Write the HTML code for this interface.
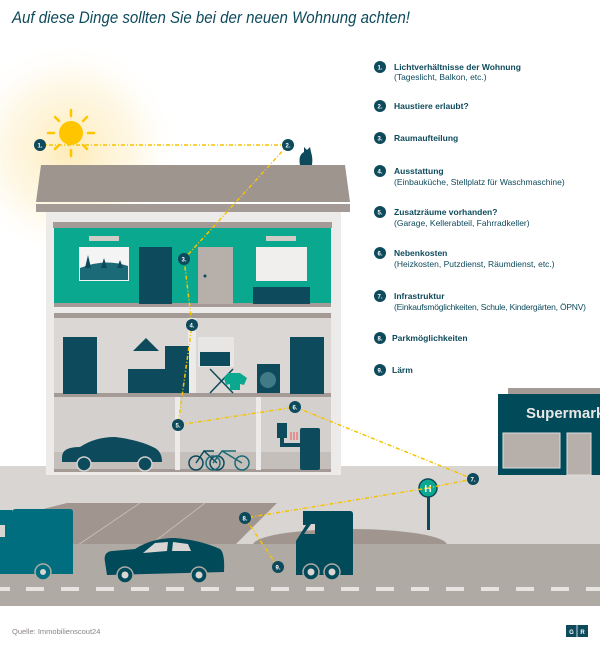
<!DOCTYPE html>
<html><head><meta charset="utf-8"><style>
html,body{margin:0;padding:0;background:#fff;width:600px;height:648px;overflow:hidden}
svg{display:block}
text{font-family:"Liberation Sans",sans-serif}
</style></head><body>
<svg width="600" height="648" viewBox="0 0 600 648" xmlns="http://www.w3.org/2000/svg">
<defs>
<radialGradient id="glow" cx="70" cy="150" r="110" gradientUnits="userSpaceOnUse">
<stop offset="0" stop-color="#fde9b0" stop-opacity="0.9"/>
<stop offset="0.6" stop-color="#fef3d6" stop-opacity="0.6"/>
<stop offset="1" stop-color="#fff" stop-opacity="0"/>
</radialGradient>
</defs>
<text x="12" y="23" font-size="17" font-style="italic" fill="#0d4a5c" textLength="398" lengthAdjust="spacingAndGlyphs">Auf diese Dinge sollten Sie bei der neuen Wohnung achten!</text>

<!-- ground -->
<rect x="0" y="466" width="600" height="80" fill="#d9d5d2"/>
<polygon points="67,503 277,503 235,545 0,545 0,520" fill="#a0958f"/>
<line x1="78" y1="545" x2="140" y2="503" stroke="#c9c2bd" stroke-width="0.8"/>
<line x1="150" y1="545" x2="205" y2="503" stroke="#c9c2bd" stroke-width="0.8"/>
<ellipse cx="350" cy="545" rx="97" ry="16" fill="#a0958f"/>
<rect x="0" y="544" width="600" height="62" fill="#b0aaa5"/>
<g fill="#e6e3e0">
<rect x="0" y="587" width="10" height="4"/><rect x="26" y="587" width="18" height="4"/><rect x="61" y="587" width="18" height="4"/><rect x="96" y="587" width="18" height="4"/><rect x="131" y="587" width="18" height="4"/><rect x="166" y="587" width="18" height="4"/><rect x="201" y="587" width="18" height="4"/><rect x="236" y="587" width="18" height="4"/><rect x="271" y="587" width="18" height="4"/><rect x="306" y="587" width="18" height="4"/><rect x="341" y="587" width="18" height="4"/><rect x="376" y="587" width="18" height="4"/><rect x="411" y="587" width="18" height="4"/><rect x="446" y="587" width="18" height="4"/><rect x="481" y="587" width="18" height="4"/><rect x="516" y="587" width="18" height="4"/><rect x="551" y="587" width="18" height="4"/><rect x="586" y="587" width="14" height="4"/>
</g>

<!-- sun glow -->
<circle cx="70" cy="150" r="110" fill="url(#glow)"/>

<!-- house -->
<rect x="46" y="210" width="295" height="265" fill="#ecebea"/>
<polygon points="41,165 345,165 350,202 36,202" fill="#9f958f"/>
<rect x="36" y="204" width="314" height="8" fill="#a49b96"/>
<rect x="53" y="222" width="279" height="6" fill="#a49b96"/>
<rect x="54" y="228" width="277" height="76" fill="#0aa88f"/>
<rect x="54" y="303" width="277" height="4" fill="#a49b96"/>
<rect x="54" y="313" width="277" height="5" fill="#a49b96"/>
<rect x="54" y="318" width="277" height="75" fill="#dbd7d4"/>
<rect x="54" y="393" width="277" height="4" fill="#a49b96"/>
<rect x="54" y="397" width="277" height="74" fill="#d4d0cd"/>
<rect x="54" y="452" width="277" height="17" fill="#c4bfbb"/>
<rect x="54" y="469" width="277" height="3" fill="#a49b96"/>
<rect x="188" y="318" width="8" height="75" fill="#ecebea"/>
<rect x="175" y="397" width="5" height="73" fill="#ecebea"/>
<rect x="256" y="397" width="5" height="73" fill="#ecebea"/>

<!-- top floor items -->
<rect x="89" y="236" width="30" height="5" fill="#d0ccc8"/>
<rect x="266" y="236" width="30" height="5" fill="#d0ccc8"/>
<rect x="79" y="247" width="50" height="34" fill="#f4f4f4"/>
<path d="M80,268 Q105,258 128,266 L128,280 L80,280Z" fill="#1b6a78"/>
<polygon points="85,268 88,255 91,268" fill="#0d4a5c"/><polygon points="101,268 104,258 107,268" fill="#0d4a5c"/><polygon points="117,268 120,260 123,268" fill="#0d4a5c"/>
<rect x="139" y="247" width="33" height="57" fill="#0d4a5c"/>
<rect x="198" y="247" width="35" height="57" fill="#b6afaa"/>
<circle cx="205" cy="276" r="1.5" fill="#0d4a5c"/>
<rect x="256" y="247" width="51" height="34" fill="#f0efee"/>
<rect x="253" y="287" width="57" height="17" fill="#0d4a5c"/>

<!-- middle floor items -->
<rect x="63" y="337" width="34" height="57" fill="#0d4a5c"/>
<rect x="290" y="337" width="34" height="57" fill="#0d4a5c"/>
<polygon points="133,351 146,338 159,351" fill="#0d4a5c"/>
<rect x="128" y="369" width="38" height="24" fill="#0d4a5c"/>
<rect x="165" y="346" width="24" height="47" fill="#0d4a5c"/>
<rect x="198" y="337" width="36" height="30" fill="#e8e6e4"/>
<rect x="200" y="352" width="30" height="14" fill="#0d4a5c"/>
<line x1="210" y1="393" x2="233" y2="369" stroke="#0d4a5c" stroke-width="1.5"/>
<line x1="210" y1="369" x2="233" y2="393" stroke="#0d4a5c" stroke-width="1.5"/>
<polygon points="228,373 240,373 247,378 244,385 240,384 240,390 230,390 230,384 226,385 224,378" fill="#0aa88f"/>
<rect x="257" y="364" width="23" height="29" fill="#0d4a5c"/>
<circle cx="268" cy="380" r="8" fill="#3f7a86"/>

<!-- basement items -->
<path d="M62,457 Q62,447 80,447 Q95,437 115,437 Q140,440 155,448 Q162,452 162,462 L62,462Z" fill="#0d4a5c"/>
<circle cx="84" cy="464" r="7" fill="#0d4a5c" stroke="#d4d0cd" stroke-width="1.5"/><circle cx="145" cy="464" r="7" fill="#0d4a5c" stroke="#d4d0cd" stroke-width="1.5"/>
<g fill="none" stroke="#0d4a5c" stroke-width="1.5"><circle cx="196" cy="463" r="7"/><circle cx="217" cy="463" r="7"/><path d="M196,463 L204,451 L217,463 M204,451 L214,451"/></g>
<g fill="none" stroke="#1b6a78" stroke-width="1.5"><circle cx="213" cy="463" r="7"/><circle cx="242" cy="463" r="7"/><path d="M213,463 L222,451 L242,463 M222,451 L236,451"/></g>
<rect x="277" y="423" width="10" height="15" fill="#0d4a5c"/>
<rect x="300" y="428" width="20" height="42" rx="2" fill="#0d4a5c"/>
<path d="M282,438 L282,445 L300,445" stroke="#0d4a5c" stroke-width="4" fill="none"/>
<g stroke="#e55" stroke-width="1"><line x1="291" y1="432" x2="291" y2="440"/><line x1="294" y1="432" x2="294" y2="440"/><line x1="297" y1="432" x2="297" y2="440"/></g>

<!-- cat -->
<path d="M300,165 Q298,155 304,152 L304,147 L307,150 L310,147 L311,152 Q313,158 312,165 Z" fill="#0d4a5c"/>

<!-- sun -->
<circle cx="71" cy="133" r="12" fill="#ffc600"/>
<g stroke="#ffc600" stroke-width="2.5" stroke-linecap="round"><line x1="71" y1="110" x2="71" y2="116"/><line x1="71" y1="150" x2="71" y2="156"/><line x1="48" y1="133" x2="54" y2="133"/><line x1="88" y1="133" x2="94" y2="133"/><line x1="55" y1="117" x2="59" y2="121"/><line x1="83" y1="145" x2="87" y2="149"/><line x1="55" y1="149" x2="59" y2="145"/><line x1="83" y1="121" x2="87" y2="117"/></g>

<!-- supermarket -->
<rect x="508" y="388" width="92" height="7" fill="#a49b96"/>
<rect x="498" y="394" width="102" height="81" fill="#004a5a"/>
<text x="526" y="418" font-size="15" font-weight="bold" fill="#e8e6e4">Supermarkt</text>
<rect x="503" y="433" width="57" height="35" fill="#b6afaa" stroke="#ddd" stroke-width="1"/>
<rect x="567" y="433" width="24" height="42" fill="#b6afaa" stroke="#ddd" stroke-width="1"/>

<!-- bus stop -->
<rect x="427" y="493" width="3" height="37" fill="#0d4a5c"/>
<circle cx="428" cy="488" r="9" fill="#0aa88f" stroke="#0d4a5c" stroke-width="1.5"/>
<text x="428" y="492" font-size="10" font-weight="bold" fill="#fff" text-anchor="middle">H</text>

<!-- vehicles -->
<path d="M0,510 L12,510 L12,512 Q12,509 16,509 L70,509 Q73,509 73,512 L73,574 L0,574Z" fill="#006e7f"/>
<rect x="0" y="525" width="5" height="12" fill="#d9d5d2"/>
<circle cx="43" cy="572" r="8" fill="#006e7f" stroke="#b0aaa5" stroke-width="1.5"/><circle cx="43" cy="572" r="3" fill="#d9d5d2"/>
<path d="M105,562 Q103,552 112,551 L135,549 Q152,538 175,538 Q200,540 220,549 Q225,553 224,572 L107,575 Z" fill="#004a5a"/>
<polygon points="143,553 155,543 168,542 167,551" fill="#d9d5d2"/><polygon points="172,551 173,542 188,544 191,551" fill="#d9d5d2"/>
<circle cx="125" cy="575" r="8" fill="#004a5a" stroke="#b0aaa5" stroke-width="1.5"/><circle cx="125" cy="575" r="3.5" fill="#d9d5d2"/>
<circle cx="199" cy="575" r="8" fill="#004a5a" stroke="#b0aaa5" stroke-width="1.5"/><circle cx="199" cy="575" r="3.5" fill="#d9d5d2"/>
<path d="M303,511 L350,511 Q353,511 353,514 L353,575 L296,575 L296,541 L306,525 L303,525 Z M304,534 L311,524 L315,524 L315,534Z" fill="#004a5a" fill-rule="evenodd"/>
<circle cx="311" cy="572" r="8" fill="#004a5a" stroke="#b0aaa5" stroke-width="1.5"/><circle cx="311" cy="572" r="3.5" fill="#d9d5d2"/>
<circle cx="332" cy="572" r="8" fill="#004a5a" stroke="#b0aaa5" stroke-width="1.5"/><circle cx="332" cy="572" r="3.5" fill="#d9d5d2"/>

<!-- dashed lines -->
<g stroke="#f5c400" stroke-width="1.5" stroke-dasharray="4,2,1,2" fill="none">
<polyline points="40,145 288,145"/>
<polyline points="288,145 184,259 192,325 178,425 295,407 473,479 428,488 245,518 278,567"/>
</g>

<!-- markers -->
<g font-size="6" font-weight="bold" fill="#fff" text-anchor="middle">
<circle cx="40" cy="145" r="6" fill="#0d4a5c"/><text x="40" y="147.5">1.</text>
<circle cx="288" cy="145" r="6" fill="#0d4a5c"/><text x="288" y="147.5">2.</text>
<circle cx="184" cy="259" r="6" fill="#0d4a5c"/><text x="184" y="261.5">3.</text>
<circle cx="192" cy="325" r="6" fill="#0d4a5c"/><text x="192" y="327.5">4.</text>
<circle cx="178" cy="425" r="6" fill="#0d4a5c"/><text x="178" y="427.5">5.</text>
<circle cx="295" cy="407" r="6" fill="#0d4a5c"/><text x="295" y="409.5">6.</text>
<circle cx="473" cy="479" r="6" fill="#0d4a5c"/><text x="473" y="481.5">7.</text>
<circle cx="245" cy="518" r="6" fill="#0d4a5c"/><text x="245" y="520.5">8.</text>
<circle cx="278" cy="567" r="6" fill="#0d4a5c"/><text x="278" y="569.5">9.</text>
</g>

<!-- legend -->
<g font-size="6" font-weight="bold" fill="#fff" text-anchor="middle">
<circle cx="380" cy="67" r="6" fill="#0d4a5c"/><text x="380" y="69.5">1.</text>
<circle cx="380" cy="106" r="6" fill="#0d4a5c"/><text x="380" y="108.5">2.</text>
<circle cx="380" cy="138" r="6" fill="#0d4a5c"/><text x="380" y="140.5">3.</text>
<circle cx="380" cy="171" r="6" fill="#0d4a5c"/><text x="380" y="173.5">4.</text>
<circle cx="380" cy="212" r="6" fill="#0d4a5c"/><text x="380" y="214.5">5.</text>
<circle cx="380" cy="253" r="6" fill="#0d4a5c"/><text x="380" y="255.5">6.</text>
<circle cx="380" cy="296" r="6" fill="#0d4a5c"/><text x="380" y="298.5">7.</text>
<circle cx="380" cy="338" r="6" fill="#0d4a5c"/><text x="380" y="340.5">8.</text>
<circle cx="380" cy="370" r="6" fill="#0d4a5c"/><text x="380" y="372.5">9.</text>
</g>
<g font-size="8.5" fill="#0d4a5c">
<text x="394" y="70" font-weight="bold">Lichtverhältnisse der Wohnung</text>
<text x="394" y="80">(Tageslicht, Balkon, etc.)</text>
<text x="394" y="109" font-weight="bold">Haustiere erlaubt?</text>
<text x="394" y="141" font-weight="bold">Raumaufteilung</text>
<text x="394" y="174" font-weight="bold">Ausstattung</text>
<text x="394" y="185">(Einbauküche, Stellplatz für Waschmaschine)</text>
<text x="394" y="215" font-weight="bold">Zusatzräume vorhanden?</text>
<text x="394" y="226">(Garage, Kellerabteil, Fahrradkeller)</text>
<text x="394" y="256" font-weight="bold">Nebenkosten</text>
<text x="394" y="267">(Heizkosten, Putzdienst, Räumdienst, etc.)</text>
<text x="394" y="299" font-weight="bold">Infrastruktur</text>
<text x="394" y="310" textLength="192">(Einkaufsmöglichkeiten, Schule, Kindergärten, ÖPNV)</text>
<text x="392" y="341" font-weight="bold">Parkmöglichkeiten</text>
<text x="392" y="373" font-weight="bold">Lärm</text>
</g>

<text x="12" y="634" font-size="7.5" fill="#8a8583">Quelle: Immobilienscout24</text>
<rect x="566" y="625" width="22" height="12" fill="#0d4a5c"/>
<line x1="577" y1="625" x2="577" y2="637" stroke="#fff" stroke-width="0.8"/>
<text x="571.5" y="634" font-size="6" font-weight="bold" fill="#fff" text-anchor="middle">G</text>
<text x="582.5" y="634" font-size="6" font-weight="bold" fill="#fff" text-anchor="middle">R</text>
</svg>
</body></html>
